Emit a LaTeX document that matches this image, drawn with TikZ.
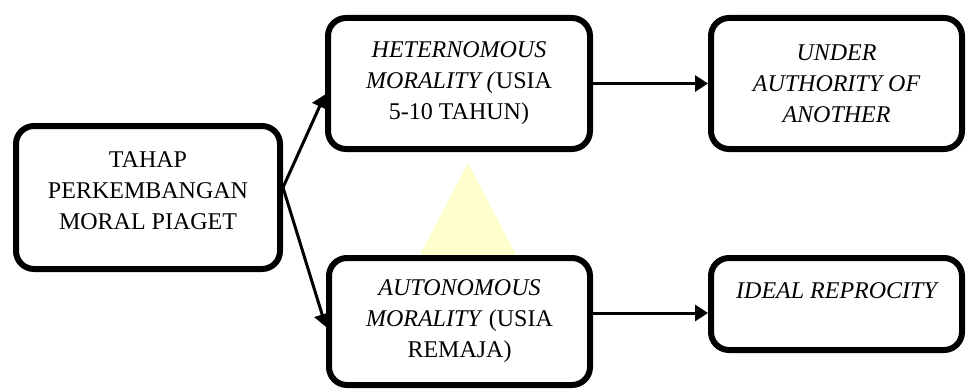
\documentclass[tikz,border=0pt]{standalone}
\usepackage{fontspec}
\setmainfont{Liberation Serif}
\usetikzlibrary{arrows.meta}
\definecolor{markyellow}{RGB}{255,255,204}
\begin{document}
\begin{tikzpicture}[x=0.5pt, y=-0.5pt,
    stagebox/.style={draw, line width=3pt, rounded corners=9pt, fill=white, align=center,
      font=\fontsize{12}{15.5}\selectfont, inner sep=0pt},
    flow/.style={-{Triangle[length=6.5pt, width=8pt]}, line width=1.5pt}]
  \useasboundingbox (0,0) rectangle (968,390);
  % Watermark
  \fill[markyellow] (468,163) -- (524,270) -- (412,270) -- cycle;
  % Stages
  \node[stagebox, minimum width=132pt, minimum height=71.5pt, text depth=7pt] (tahap) at (148,197.5)
    {TAHAP\\PERKEMBANGAN\\MORAL PIAGET};
  \node[stagebox, minimum width=131pt, minimum height=65.5pt] (hetero) at (459,83.5)
    {\textit{HETERNOMOUS}\\\textit{MORALITY (}USIA\\5-10 TAHUN)};
  \node[stagebox, minimum width=130.5pt, minimum height=63.5pt] (otonom) at (459.5,321.5)
    {\textit{AUTONOMOUS}\\\textit{MORALITY} (USIA\\REMAJA)};
  % Results
  \node[stagebox, minimum width=125.5pt, minimum height=65.5pt, font=\fontsize{12}{15.5}\selectfont\itshape] (under) at (836.5,83.5)
    {UNDER\\AUTHORITY OF\\ANOTHER};
  \node[stagebox, minimum width=125.5pt, minimum height=46pt, text depth=13pt, font=\fontsize{12}{15.5}\selectfont\itshape] (ideal) at (836.5,304)
    {IDEAL REPROCITY};
  % Arrows
  \draw[flow] ([yshift=5pt]tahap.east) -- ([yshift=-5.5pt]hetero.west);
  \draw[flow] ([yshift=5pt]tahap.east) -- ([yshift=-2.75pt]otonom.west);
  \draw[flow] (hetero) -- (under);
  \draw[flow] ([yshift=4.25pt]otonom.east) -- ([yshift=-4.5pt]ideal.west);
\end{tikzpicture}
\end{document}
